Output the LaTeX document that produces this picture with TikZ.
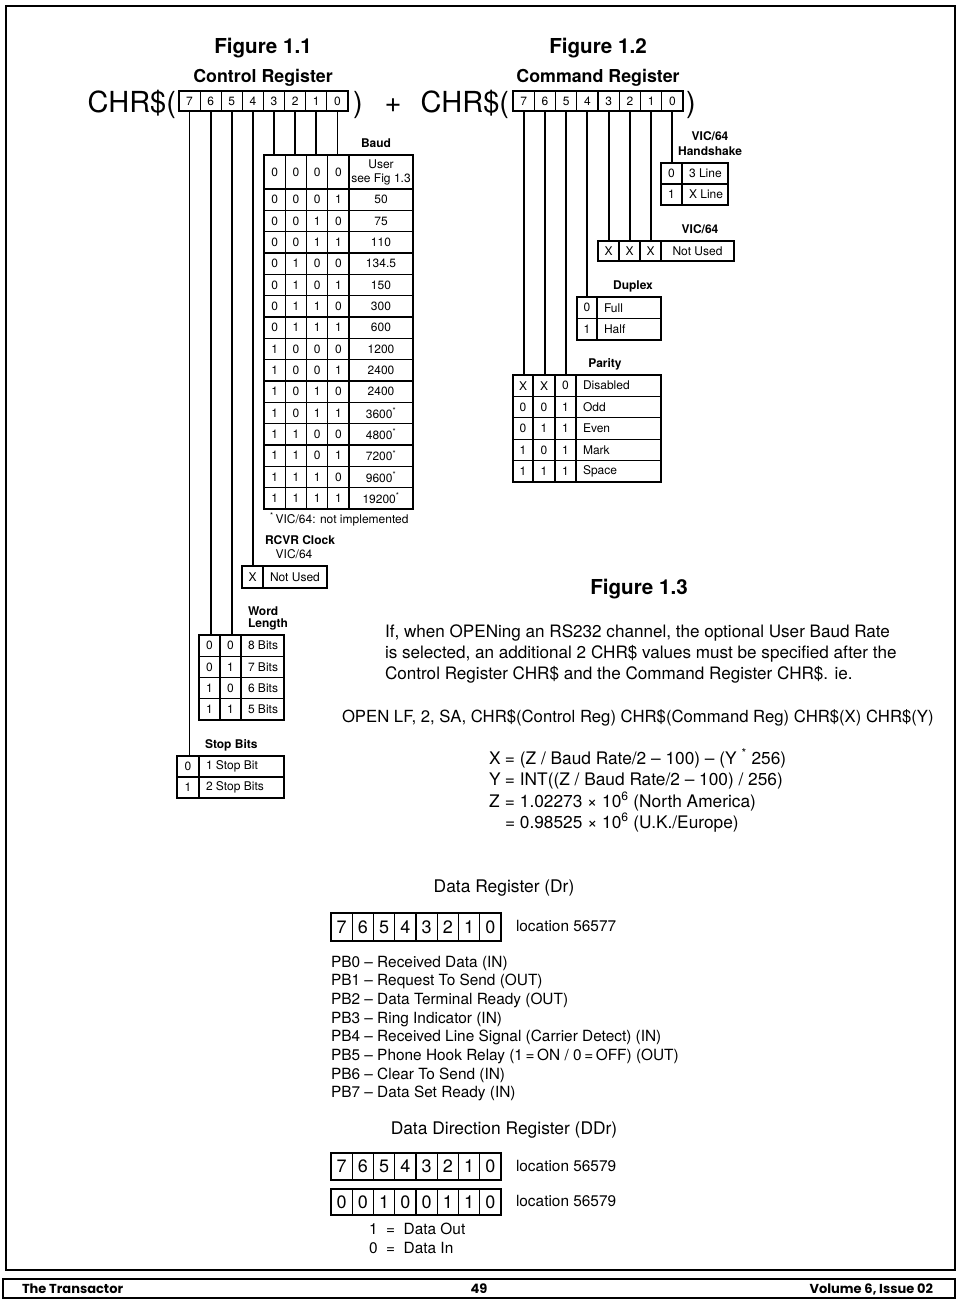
\documentclass[tikz,border=0pt]{standalone}
\usepackage{fontspec}
\setmainfont{TeX Gyre Heros}
\newfontfamily\footfont{Poppins}
\newcommand\supast{\textsuperscript{*}}
\newcommand\cellC[6]{\node[tcell, minimum width=#4pt, minimum height=#5pt] (#1) at (#2,#3) {#6};}
\newcommand\cellL[6]{\node[tcell, minimum width=#4pt, minimum height=#5pt, inner xsep=7pt] (#1) at (#2,#3) {\makebox[\dimexpr #4pt-14pt\relax][l]{#6}};}
\begin{document}
\begin{tikzpicture}[x=1pt,y=-1pt,
  every node/.style={inner sep=0pt, outer sep=0pt},
  tcell/.style={draw, line width=1.1pt, anchor=north west, font=\fontsize{12}{14}\selectfont, align=center},
  reg/.style={tcell, minimum width=21.125pt, minimum height=20pt},
  dreg/.style={draw, line width=1.1pt, anchor=north west, minimum width=21.25pt, font=\fontsize{18}{20}\selectfont},
  wire/.style={line width=1.8pt},
  lbl/.style={font=\fontsize{12}{14}\selectfont\bfseries},
  smtxt/.style={font=\fontsize{12}{14}\selectfont},
  figtitle/.style={font=\fontsize{20.6}{24}\selectfont\bfseries},
  subtitle/.style={font=\fontsize{17.8}{20}\selectfont\bfseries},
  bigtxt/.style={font=\fontsize{29}{34}\selectfont},
  bodytxt/.style={font=\fontsize{17.1}{20}\selectfont},
  opentxt/.style={font=\fontsize{16.7}{20}\selectfont},
  eqtxt/.style={font=\fontsize{17.3}{20}\selectfont},
  pbtxt/.style={font=\fontsize{15.4}{18}\selectfont},
  ttltxt/.style={font=\fontsize{17.4}{20}\selectfont},
  foot/.style={font=\footfont\bfseries\fontsize{13}{15}\selectfont},
]
\useasboundingbox (0,0) rectangle (960,1303);
\fill[white] (0,0) rectangle (960,1303);
% page frame and footer
\draw[line width=1.4pt] (6,6) rectangle (955,1270);
\draw[line width=1.3pt] (3,1279) rectangle (955,1298);
\node[foot, anchor=base west] (ft1) at (22,1293.5) {The Transactor};
\node[foot, anchor=base] (ft2) at (479,1293.5) {49};
\node[foot, anchor=base east] (ft3) at (933,1293.5) {Volume 6, Issue 02};

% ---------- Figure 1.1 ----------
\node[figtitle, anchor=base] (f11) at (263,54) {Figure 1.1};
\node[subtitle, anchor=base] (cr) at (263,83) {Control Register};
\node[bigtxt, anchor=base east] (chr1) at (176,113) {CHR\$(};
\node[bigtxt, anchor=base west] (cp1) at (353,113) {)};
\node[bigtxt, anchor=base] (plus) at (393,113) {+};
\foreach \b [count=\i from 0] in {7,6,5,4,3,2,1,0}
  \node[reg] (A\b) at ({179+\i*21.125},91) {\b};

% Baud table
\node[lbl, anchor=base] (baudl) at (376,147) {Baud};
\cellC{bu3}{264}{155}{21.25}{34}{0}
\cellC{bu2}{285.25}{155}{21.25}{34}{0}
\cellC{bu1}{306.5}{155}{21.25}{34}{0}
\cellC{bu0}{327.75}{155}{21.25}{34}{0}
\cellC{buv}{349}{155}{64}{34}{User\\see Fig 1.3}
\foreach \p/\q/\r/\s/\v [count=\k from 1] in {0/0/0/1/50, 0/0/1/0/75, 0/0/1/1/110, 0/1/0/0/134.5, 0/1/0/1/150, 0/1/1/0/300, 0/1/1/1/600, 1/0/0/0/1200, 1/0/0/1/2400, 1/0/1/0/2400, 1/0/1/1/3600\supast, 1/1/0/0/4800\supast, 1/1/0/1/7200\supast, 1/1/1/0/9600\supast, 1/1/1/1/19200\supast} {
  \pgfmathsetmacro\yy{189+(\k-1)*21.333}
  \cellC{b\k a}{264}{\yy}{21.25}{21.333}{\p}
  \cellC{b\k b}{285.25}{\yy}{21.25}{21.333}{\q}
  \cellC{b\k c}{306.5}{\yy}{21.25}{21.333}{\r}
  \cellC{b\k d}{327.75}{\yy}{21.25}{21.333}{\s}
  \cellC{b\k v}{349}{\yy}{64}{21.333}{\v}
}
\node[smtxt, anchor=base west] (fn) at (270,523) {\supast\,VIC/64: not implemented};

% RCVR clock
\node[lbl, anchor=base west] (rcvrl) at (265,544) {RCVR Clock};
\node[smtxt, anchor=base] (rcvrv) at (294,558) {VIC/64};
\cellC{rc1}{242}{566}{21}{22}{X}
\cellL{rc2}{263}{566}{64}{22}{Not Used}

% Word length
\node[lbl, anchor=base west] (wl1) at (248,615) {Word};
\node[lbl, anchor=base west] (wl2) at (248,627) {Length};
\foreach \p/\q/\v [count=\k from 1] in {0/0/8 Bits, 0/1/7 Bits, 1/0/6 Bits, 1/1/5 Bits} {
  \pgfmathsetmacro\yy{635+(\k-1)*21.25}
  \cellC{w\k a}{199}{\yy}{21}{21.25}{\p}
  \cellC{w\k b}{220}{\yy}{21}{21.25}{\q}
  \cellL{w\k v}{241}{\yy}{43}{21.25}{\v}
}

% Stop bits
\node[lbl, anchor=base west] (sbl) at (205,748) {Stop Bits};
\cellC{s1a}{177}{756}{22}{21}{0}
\cellL{s1v}{199}{756}{85}{21}{1 Stop Bit}
\cellC{s2a}{177}{777}{22}{21}{1}
\cellL{s2v}{199}{777}{85}{21}{2 Stop Bits}

% wires Figure 1.1
\draw[wire] (A7.south) -- (A7.south |- s1a.north);
\draw[wire] (A6.south) -- (A6.south |- w1a.north);
\draw[wire] (A5.south) -- (A5.south |- w1b.north);
\draw[wire] (A4.south) -- (A4.south |- rc1.north);
\draw[wire] (A3.south) -- (A3.south |- bu3.north);
\draw[wire] (A2.south) -- (A2.south |- bu2.north);
\draw[wire] (A1.south) -- (A1.south |- bu1.north);
\draw[wire] (A0.south) -- (A0.south |- bu0.north);

% ---------- Figure 1.2 ----------
\node[figtitle, anchor=base] (f12) at (598,54) {Figure 1.2};
\node[subtitle, anchor=base] (cmr) at (598,83) {Command Register};
\node[bigtxt, anchor=base east] (chr2) at (509,113) {CHR\$(};
\node[bigtxt, anchor=base west] (cp2) at (686,113) {)};
\foreach \b [count=\i from 0] in {7,6,5,4,3,2,1,0}
  \node[reg, minimum width=21.25pt] (C\b) at ({513+\i*21.25},91) {\b};

% Handshake
\node[lbl, anchor=base] (hs1) at (710,141) {VIC/64};
\node[lbl, anchor=base] (hs2) at (710,155) {Handshake};
\cellC{h1a}{661}{163}{21}{21}{0}
\cellL{h1v}{682}{163}{46}{21}{3 Line}
\cellC{h2a}{661}{184}{21}{21}{1}
\cellL{h2v}{682}{184}{46}{21}{X Line}

% Not used
\node[lbl, anchor=base] (nul) at (700,233) {VIC/64};
\cellC{n1}{598}{241}{21}{20}{X}
\cellC{n2}{619}{241}{21}{20}{X}
\cellC{n3}{640}{241}{21}{20}{X}
\cellC{nv}{661}{241}{73}{20}{Not Used}

% Duplex
\node[lbl, anchor=base] (dupl) at (633,289) {Duplex};
\cellC{d1a}{577}{297}{20}{21.5}{0}
\cellL{d1v}{597}{297}{64}{21.5}{Full}
\cellC{d2a}{577}{318.5}{20}{21.5}{1}
\cellL{d2v}{597}{318.5}{64}{21.5}{Half}

% Parity
\node[lbl, anchor=base] (parl) at (605,367) {Parity};
\foreach \p/\q/\r/\v [count=\k from 1] in {X/X/0/Disabled, 0/0/1/Odd, 0/1/1/Even, 1/0/1/Mark, 1/1/1/Space} {
  \pgfmathsetmacro\yy{375+(\k-1)*21.4}
  \cellC{p\k a}{513}{\yy}{20}{21.4}{\p}
  \cellC{p\k b}{533}{\yy}{22}{21.4}{\q}
  \cellC{p\k c}{555}{\yy}{21}{21.4}{\r}
  \cellL{p\k v}{576}{\yy}{85}{21.4}{\v}
}

% wires Figure 1.2
\draw[wire] (C7.south) -- (C7.south |- p1a.north);
\draw[wire] (C6.south) -- (C6.south |- p1b.north);
\draw[wire] (C5.south) -- (C5.south |- p1c.north);
\draw[wire] (C4.south) -- (C4.south |- d1a.north);
\draw[wire] (C3.south) -- (C3.south |- n1.north);
\draw[wire] (C2.south) -- (C2.south |- n2.north);
\draw[wire] (C1.south) -- (C1.south |- n3.north);
\draw[wire] (C0.south) -- (C0.south |- h1a.north);

% ---------- Figure 1.3 ----------
\node[figtitle, anchor=base] (f13) at (639,594) {Figure 1.3};
\node[bodytxt, anchor=base west] (t1) at (385,637) {If, when OPENing an RS232 channel, the optional User Baud Rate};
\node[bodytxt, anchor=base west] (t2) at (385,658) {is selected, an additional 2 CHR\$ values must be specified after the};
\node[bodytxt, anchor=base west] (t3) at (385,679) {Control Register CHR\$ and the Command Register CHR\$. ie.};
\node[opentxt, anchor=base west] (op) at (342,722) {OPEN LF, 2, SA, CHR\$(Control Reg) CHR\$(Command Reg) CHR\$(X) CHR\$(Y)};
\node[eqtxt, anchor=base west] (eqx) at (489,764) {\makebox[16pt][l]{X}= (Z / Baud Rate/2 – 100) – (Y \supast\ 256)};
\node[eqtxt, anchor=base west] (eqy) at (489,785) {\makebox[16pt][l]{Y}= INT((Z / Baud Rate/2 – 100) / 256)};
\node[eqtxt, anchor=base west] (eqz) at (489,807) {\makebox[16pt][l]{Z}= 1.02273 × 10\textsuperscript{6} (North America)};
\node[eqtxt, anchor=base west] (eqe) at (489,828) {\makebox[16pt][l]{}= 0.98525 × 10\textsuperscript{6} (U.K./Europe)};

% ---------- Data register ----------
\node[ttltxt, anchor=base] (drt) at (504,892) {Data Register (Dr)};
\foreach \b [count=\i from 0] in {7,6,5,4,3,2,1,0}
  \node[dreg, minimum height=28pt] (D\b) at ({331+\i*21.25},913) {\b};
\node[pbtxt, anchor=base west] (dloc) at (516,931) {location 56577};
\foreach \t [count=\k from 0] in {PB0 – Received Data (IN), PB1 – Request To Send (OUT), PB2 – Data Terminal Ready (OUT), PB3 – Ring Indicator (IN), PB4 – Received Line Signal (Carrier Detect) (IN), PB5 – Phone Hook Relay (1\,=\,ON / 0\,=\,OFF) (OUT), PB6 – Clear To Send (IN), PB7 – Data Set Ready (IN)}
  \node[pbtxt, anchor=base west] (pb\k) at (331,{967+\k*18.71}) {\t};

% ---------- Data direction register ----------
\node[ttltxt, anchor=base] (ddt) at (504,1134) {Data Direction Register (DDr)};
\foreach \b [count=\i from 0] in {7,6,5,4,3,2,1,0}
  \node[dreg, minimum height=27pt] (E\b) at ({331+\i*21.25},1153) {\b};
\foreach \v [count=\i from 0] in {0,0,1,0,0,1,1,0}
  \node[dreg, minimum height=26pt] (F\i) at ({331+\i*21.25},1189) {\v};
\node[pbtxt, anchor=base west] (eloc) at (516,1171) {location 56579};
\node[pbtxt, anchor=base west] (floc) at (516,1206) {location 56579};
\node[pbtxt, anchor=base west] (k1) at (369,1234) {1\ \ =\ \ Data Out};
\node[pbtxt, anchor=base west] (k0) at (369,1253) {0\ \ =\ \ Data In};
\end{tikzpicture}
\end{document}
